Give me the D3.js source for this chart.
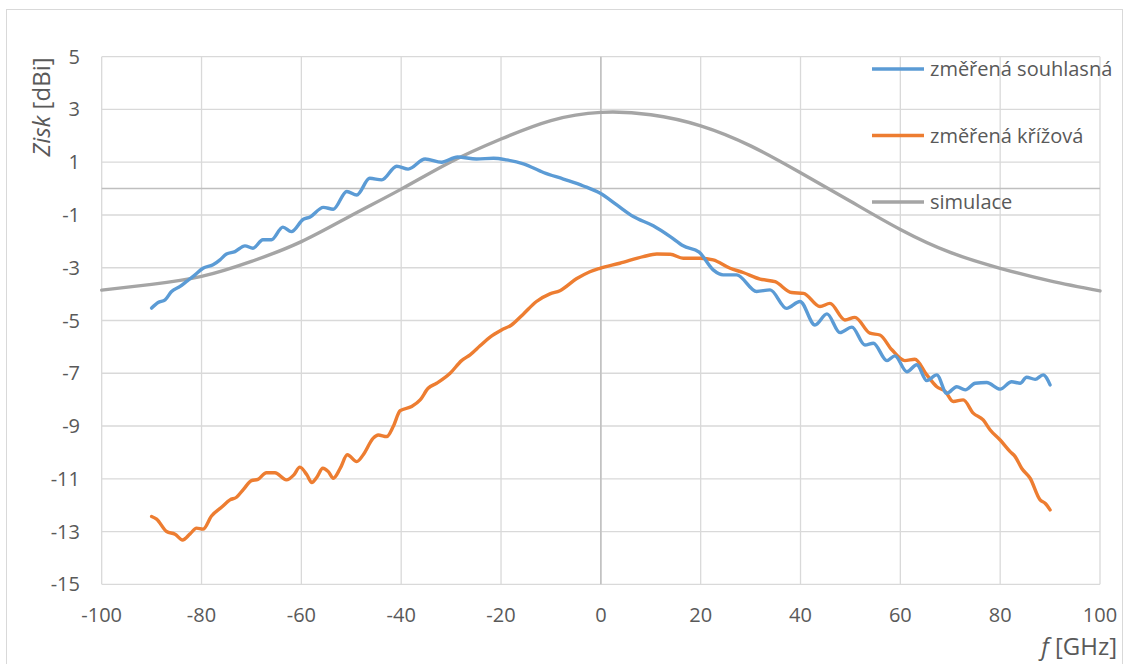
<!DOCTYPE html>
<html>
<head>
<meta charset="utf-8">
<script src="https://cdn.jsdelivr.net/npm/d3@7"></script>
<style>
  html, body { margin: 0; padding: 0; background: #fff; }
  svg { display: block; font-family: "Open Sans", "Noto Sans", sans-serif; }
</style>
</head>
<body>
<svg id="chart" width="1130" height="664"></svg>
<script>
// Axis ticks
const xTicks = [-100, -80, -60, -40, -20, 0, 20, 40, 60, 80, 100];
const yTicks = [5, 3, 1, -1, -3, -5, -7, -9, -11, -13, -15];

// Series names and colours
const seriesNames = ["změřená souhlasná", "změřená křížová", "simulace"];
const seriesColors = ["#5B9BD5", "#ED7D31", "#A5A5A5"];

// Measured co-polar gain [f GHz, gain dBi]
const souhlasna = [
  [-90.0, -4.53], [-88.7, -4.32], [-87.3, -4.22], [-86.0, -3.90], [-84.3, -3.71],
  [-83.0, -3.52], [-81.3, -3.27], [-79.7, -3.02], [-77.7, -2.89], [-76.3, -2.70],
  [-75.0, -2.48], [-73.3, -2.39], [-71.3, -2.17], [-69.7, -2.26], [-67.7, -1.94],
  [-66.0, -1.94], [-63.7, -1.46], [-62.0, -1.63], [-59.6, -1.16], [-58.3, -1.08],
  [-55.6, -0.71], [-53.6, -0.78], [-50.9, -0.11], [-48.9, -0.24], [-46.3, 0.39],
  [-43.9, 0.33], [-40.9, 0.85], [-38.6, 0.74], [-35.2, 1.12], [-31.9, 1.00],
  [-28.7, 1.20], [-24.9, 1.12], [-21.5, 1.15], [-18.9, 1.09], [-15.5, 0.94],
  [-11.5, 0.61], [-7.5, 0.36], [-3.5, 0.10], [-0.2, -0.17], [3.2, -0.62],
  [6.5, -1.06], [10.5, -1.41], [13.9, -1.82], [16.5, -2.17], [19.7, -2.41],
  [22.5, -3.08], [24.5, -3.27], [27.2, -3.27], [31.2, -3.90], [33.9, -3.84],
  [37.2, -4.54], [39.9, -4.28], [42.9, -5.17], [45.3, -4.75], [47.9, -5.46],
  [50.3, -5.25], [52.9, -5.93], [54.6, -5.86], [57.3, -6.52], [58.9, -6.34],
  [61.3, -6.94], [63.3, -6.68], [65.3, -7.28], [67.3, -7.06], [69.3, -7.76],
  [71.3, -7.51], [73.0, -7.63], [75.0, -7.38], [77.3, -7.35], [80.0, -7.60],
  [82.3, -7.32], [84.0, -7.38], [85.3, -7.15], [87.0, -7.23], [88.6, -7.06],
  [90.0, -7.44]
];

// Measured cross-polar gain [f GHz, gain dBi]
const krizova = [
  [-90.0, -12.43], [-89.0, -12.53], [-87.0, -13.00], [-85.3, -13.10], [-83.8, -13.32],
  [-82.3, -13.09], [-81.0, -12.87], [-79.7, -12.91], [-78.0, -12.41], [-76.0, -12.08],
  [-74.3, -11.80], [-73.0, -11.70], [-71.6, -11.40], [-70.0, -11.07], [-68.7, -11.02],
  [-67.0, -10.77], [-65.3, -10.77], [-63.0, -11.04], [-61.5, -10.85], [-60.3, -10.56],
  [-58.9, -10.85], [-57.9, -11.14], [-56.9, -10.94], [-55.7, -10.60], [-54.6, -10.73],
  [-53.6, -10.98], [-52.2, -10.60], [-50.8, -10.09], [-48.9, -10.35], [-47.6, -10.09],
  [-45.6, -9.46], [-44.6, -9.34], [-42.9, -9.40], [-41.6, -9.02], [-40.2, -8.42],
  [-37.9, -8.26], [-36.2, -8.01], [-34.6, -7.57], [-32.9, -7.38], [-30.2, -7.00],
  [-27.9, -6.52], [-26.2, -6.30], [-24.2, -5.96], [-22.2, -5.63], [-19.9, -5.36],
  [-17.9, -5.17], [-15.5, -4.75], [-12.9, -4.28], [-10.2, -3.99], [-8.2, -3.87],
  [-4.9, -3.42], [-2.2, -3.15], [-0.2, -3.02], [3.8, -2.83], [8.5, -2.58],
  [11.2, -2.48], [13.9, -2.49], [16.5, -2.64], [19.9, -2.64], [22.5, -2.70],
  [25.9, -3.02], [28.5, -3.18], [31.9, -3.43], [34.9, -3.53], [38.2, -3.94],
  [40.6, -3.97], [43.9, -4.47], [45.9, -4.35], [48.9, -4.98], [50.9, -4.88],
  [53.9, -5.48], [55.9, -5.55], [58.3, -6.11], [60.9, -6.52], [62.9, -6.47],
  [65.3, -7.06], [67.3, -7.51], [69.0, -7.69], [70.6, -8.07], [72.6, -8.01],
  [74.6, -8.51], [76.6, -8.77], [78.0, -9.15], [80.0, -9.53], [82.0, -9.97],
  [83.0, -10.16], [84.3, -10.60], [86.0, -10.98], [88.0, -11.80], [89.0, -11.93],
  [90.0, -12.18]
];

// Simulated gain [f GHz, gain dBi]
const simulace = [
  [-100, -3.85], [-90, -3.63], [-80, -3.33], [-70, -2.76], [-60, -2.01],
  [-50, -1.02], [-40, -0.02], [-30, 1.02], [-20, 1.88], [-10, 2.58],
  [0, 2.89], [10, 2.80], [20, 2.38], [30, 1.62], [40, 0.60],
  [50, -0.48], [60, -1.55], [70, -2.42], [80, -3.02], [90, -3.50],
  [100, -3.88]
];

const svg = d3.select("#chart");
const plot = { left: 101.7, right: 1100, top: 56.7, bottom: 584.3 };

const x = d3.scaleLinear().domain([-100, 100]).range([plot.left, plot.right]);
const y = d3.scaleLinear().domain([-15, 5]).range([plot.bottom, plot.top]);

const textColor = "#595959";

// Chart frame
svg.append("rect")
  .attr("x", 6.5).attr("y", 9.5)
  .attr("width", 1116).attr("height", 670)
  .attr("fill", "none").attr("stroke", "#D9D9D9").attr("stroke-width", 1);

// Gridlines
const grid = svg.append("g");
grid.selectAll("line.v").data(xTicks).join("line")
  .attr("x1", d => x(d)).attr("x2", d => x(d))
  .attr("y1", plot.top).attr("y2", plot.bottom)
  .attr("stroke", "#D9D9D9").attr("stroke-width", 1.3);
grid.selectAll("line.h").data(yTicks).join("line")
  .attr("x1", plot.left).attr("x2", plot.right)
  .attr("y1", d => y(d)).attr("y2", d => y(d))
  .attr("stroke", "#D9D9D9").attr("stroke-width", 1.3);

// Zero axes crossing in the plot
svg.append("line")
  .attr("x1", plot.left).attr("x2", plot.right)
  .attr("y1", y(0)).attr("y2", y(0))
  .attr("stroke", "#BFBFBF").attr("stroke-width", 1.5);
svg.append("line")
  .attr("x1", x(0)).attr("x2", x(0))
  .attr("y1", plot.top).attr("y2", plot.bottom)
  .attr("stroke", "#BFBFBF").attr("stroke-width", 1.5);

// Tick labels
svg.append("g").selectAll("text").data(xTicks).join("text")
  .attr("x", d => x(d)).attr("y", 622)
  .attr("text-anchor", "middle")
  .attr("font-size", 20).attr("fill", textColor)
  .text(d => d);
svg.append("g").selectAll("text").data(yTicks).join("text")
  .attr("x", 80).attr("y", d => y(d))
  .attr("dy", "0.35em")
  .attr("text-anchor", "end")
  .attr("font-size", 20).attr("fill", textColor)
  .text(d => d);

// Axis titles
const yTitle = svg.append("text")
  .attr("transform", "translate(50,107) rotate(-90)")
  .attr("text-anchor", "middle")
  .attr("font-size", 24).attr("fill", textColor);
yTitle.append("tspan").attr("font-style", "italic").text("Zisk");
yTitle.append("tspan").text(" [dBi]");

const xTitle = svg.append("text")
  .attr("x", 1117).attr("y", 655)
  .attr("text-anchor", "end")
  .attr("font-size", 24).attr("fill", textColor);
xTitle.append("tspan").attr("font-style", "italic").text("f");
xTitle.append("tspan").text(" [GHz]");

// Series lines
const measuredLine = d3.line()
  .x(d => x(d[0])).y(d => y(d[1]))
  .curve(d3.curveMonotoneX);
const simLine = d3.line()
  .x(d => x(d[0])).y(d => y(d[1]))
  .curve(d3.curveNatural);

const seriesData = [souhlasna, krizova, simulace];
const lines = svg.append("g")
  .attr("fill", "none")
  .attr("stroke-width", 3.4)
  .attr("stroke-linejoin", "round")
  .attr("stroke-linecap", "round");
// Simulation underneath, then cross-polar, then co-polar on top
[2, 1, 0].forEach(i => {
  lines.append("path")
    .datum(seriesData[i])
    .attr("stroke", seriesColors[i])
    .attr("d", i === 2 ? simLine : measuredLine);
});

// Legend
const legendY = [69, 135.5, 202];
const legend = svg.append("g");
seriesNames.forEach((name, i) => {
  legend.append("line")
    .attr("x1", 872).attr("x2", 924)
    .attr("y1", legendY[i]).attr("y2", legendY[i])
    .attr("stroke", seriesColors[i]).attr("stroke-width", 3.4);
  legend.append("text")
    .attr("x", 930).attr("y", legendY[i]).attr("dy", "0.35em")
    .attr("font-size", 20).attr("fill", textColor)
    .text(name);
});
</script>
</body>
</html>
